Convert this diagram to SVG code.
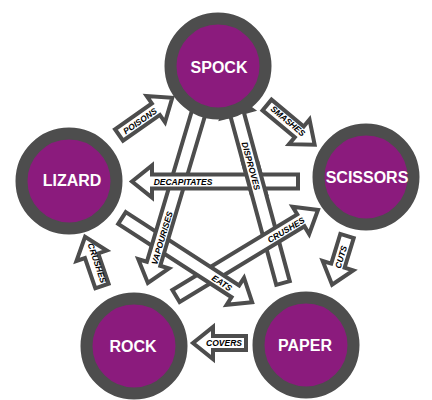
<svg xmlns="http://www.w3.org/2000/svg" width="432" height="400" viewBox="0 0 432 400">
<style>
.arrow{fill:#fff;stroke:#4d4d4d;stroke-width:4;stroke-linejoin:miter}
.lbl{font-family:"Liberation Sans",Arial,sans-serif;font-weight:bold;font-style:italic;font-size:8.5px;fill:#000;text-anchor:middle;dominant-baseline:central}
.node{fill:#8b1b7d;stroke:#4d4d4d;stroke-width:12}
.ntext{font-family:"Liberation Sans",Arial,sans-serif;font-weight:bold;font-size:16px;fill:#fff;text-anchor:middle;dominant-baseline:central}
</style>
<defs>
<clipPath id="cross"><rect x="236" y="160" width="40" height="36"/></clipPath>
<path id="disproves-shape" class="arrow" transform="translate(283,283) rotate(-105.2)" d="M0,-7 H175 V-16 L195,0 L175,16 V7 H0 Z"/>
</defs>
<rect width="432" height="400" fill="#fff"/>
<g id="connectors">
<g id="disproves"><use href="#disproves-shape"/><text class="lbl" transform="translate(251,166) rotate(74.8)">DISPROVES</text></g>
<g id="crushes-rs"><path class="arrow" transform="translate(176,296) rotate(-31.2)" d="M0,-7 H146 V-16 L166,0 L146,16 V7 H0 Z"/><text class="lbl" transform="translate(286,230) rotate(-31.2)">CRUSHES</text></g>
<g id="eats"><path class="arrow" transform="translate(122,218) rotate(32.9)" d="M0,-7 H135 V-16 L155,0 L135,16 V7 H0 Z"/><text class="lbl" transform="translate(222,283) rotate(32.9)">EATS</text></g>
<g id="vapourises"><path class="arrow" transform="translate(203,98) rotate(106.6)" d="M0,-7 H173 V-16 L193,0 L173,16 V7 H0 Z"/><text class="lbl" transform="translate(162,238) rotate(-73.4)">VAPOURISES</text></g>
<g id="decapitates"><path class="arrow" transform="translate(298,181.5) rotate(180)" d="M0,-7 H146 V-16 L166,0 L146,16 V7 H0 Z"/><text class="lbl" x="183" y="182">DECAPITATES</text></g>
<g id="disproves-over" clip-path="url(#cross)"><use href="#disproves-shape"/><text class="lbl" transform="translate(251,166) rotate(74.8)">DISPROVES</text></g>
<g id="poisons"><path class="arrow" transform="translate(119,135) rotate(-35)" d="M0,-7 H45 V-16 L65,0 L45,16 V7 H0 Z"/><text class="lbl" transform="translate(140,121) rotate(-35)">POISONS</text></g>
<g id="smashes"><path class="arrow" transform="translate(267,105) rotate(39.8)" d="M0,-7 H42 V-16 L62,0 L42,16 V7 H0 Z"/><text class="lbl" transform="translate(288,121) rotate(39.8)">SMASHES</text></g>
<g id="cuts"><path class="arrow" transform="translate(347,236) rotate(107)" d="M0,-7 H31 V-16 L51,0 L31,16 V7 H0 Z"/><text class="lbl" transform="translate(341,257) rotate(-73)">CUTS</text></g>
<g id="covers"><path class="arrow" transform="translate(246,343) rotate(180)" d="M0,-7 H33 V-16 L53,0 L33,16 V7 H0 Z"/><text class="lbl" x="224" y="343">COVERS</text></g>
<g id="crushes-rl"><path class="arrow" transform="translate(102,286) rotate(-109)" d="M0,-7 H32 V-16 L52,0 L32,16 V7 H0 Z"/><text class="lbl" transform="translate(97,263) rotate(71)">CRUSHES</text></g>
</g>
<g id="spock"><circle class="node" cx="218" cy="66" r="47.5"/><text class="ntext" x="219" y="67">SPOCK</text></g>
<g id="lizard"><circle class="node" cx="69" cy="181" r="47.5"/><text class="ntext" x="72" y="180">LIZARD</text></g>
<g id="scissors"><circle class="node" cx="366" cy="177" r="47.5"/><text class="ntext" x="367" y="177">SCISSORS</text></g>
<g id="rock"><circle class="node" cx="134" cy="346" r="47.5"/><text class="ntext" x="133" y="346">ROCK</text></g>
<g id="paper"><circle class="node" cx="306" cy="345" r="47.5"/><text class="ntext" x="305" y="345">PAPER</text></g>
</svg>
